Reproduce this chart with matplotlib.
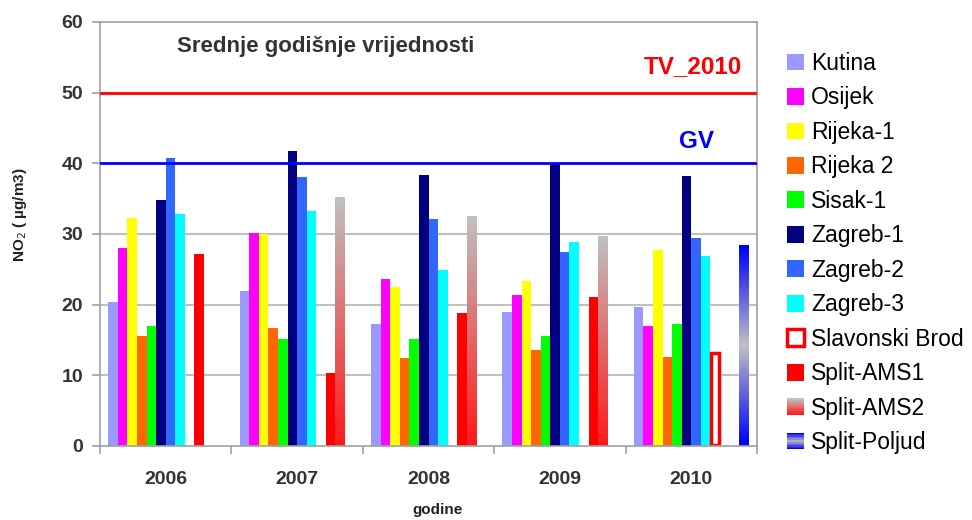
import numpy as np
import matplotlib
matplotlib.use("Agg")
import matplotlib.pyplot as plt
from matplotlib.patches import Rectangle
from matplotlib.legend_handler import HandlerBase
from matplotlib.colors import to_rgb

matplotlib.rcParams['font.family'] = ['Liberation Sans', 'DejaVu Sans']

nan = np.nan
years = ["2006", "2007", "2008", "2009", "2010"]
stations = ["Kutina", "Osijek", "Rijeka-1", "Rijeka 2", "Sisak-1", "Zagreb-1",
            "Zagreb-2", "Zagreb-3", "Slavonski Brod", "Split-AMS1", "Split-AMS2",
            "Split-Poljud"]

kutina = [20.4, 22.0, 17.2, 19.0, 19.7]
osijek = [28.0, 30.2, 23.6, 21.4, 17.0]
rijeka1 = [32.3, 30.0, 22.5, 23.4, 27.7]
rijeka2 = [15.5, 16.7, 12.4, 13.6, 12.6]
sisak1 = [17.0, 15.2, 15.1, 15.6, 17.3]
zagreb1 = [34.8, 41.7, 38.4, 40.1, 38.2]
zagreb2 = [40.7, 38.0, 32.1, 27.5, 29.4]
zagreb3 = [32.8, 33.2, 24.9, 28.9, 26.9]
slav_brod = [nan, nan, nan, nan, 13.3]
split_ams1 = [27.2, 10.3, 18.8, 21.1, nan]
split_ams2 = [nan, 35.1, 32.5, 29.7, nan]
split_poljud = [nan, nan, nan, nan, 28.4]

series = [kutina, osijek, rijeka1, rijeka2, sisak1, zagreb1, zagreb2, zagreb3,
          slav_brod, split_ams1, split_ams2, split_poljud]
colors = ["#9999FF", "#FF00FF", "#FFFF00", "#FF6600", "#00FF00", "#000080",
          "#3366FF", "#00FFFF", "white", "#FF0000", None, None]
gradients = {10: ["#C0C0C0", "#FF1A1A"],
             11: ["#0000FF", "#C0C0C0", "#0000FF"]}

tv_2010 = 50
gv = 40

fig = plt.figure(figsize=(9.72, 5.2), dpi=100)
ax = fig.add_axes([100/972, 1-446/520, 657/972, 424/520])

grid_c = "#C0C0C0"
for yv in [10, 20, 30]:
    ax.axhline(yv, color=grid_c, lw=1.5, zorder=0)

bw = 0.073
start = (1 - 12*bw)/2


def grad_img(cols, n=64):
    cs = np.array([to_rgb(c) for c in cols])
    t = np.linspace(0, 1, n)
    pos = np.linspace(0, 1, len(cs))
    arr = np.stack([np.interp(t, pos, cs[:, k]) for k in range(3)], axis=-1)
    return arr[:, None, :]


for j, vals in enumerate(series):
    for i, v in enumerate(vals):
        if np.isnan(v):
            continue
        x0 = i + start + j*bw
        if j in gradients:
            ax.imshow(grad_img(gradients[j]), extent=(x0, x0+bw, 0, v),
                      aspect='auto', interpolation='bilinear', zorder=2)
        elif j == 8:
            ax.bar(x0 + 0.004, v - 0.25, width=bw - 0.012, bottom=0.15, align='edge',
                   facecolor='white', edgecolor='#FF0000', lw=2.5, zorder=2)
        else:
            ax.bar(x0, v, width=bw, align='edge', color=colors[j], lw=0, zorder=2)

ax.axhline(tv_2010, color="#FF0000", lw=2, zorder=3)
ax.axhline(gv, color="#0000FF", lw=2, zorder=3)

ax.set_xlim(0, 5)
ax.set_ylim(0, 60)
ax.set_yticks(range(0, 61, 10))
ax.set_xticks(range(6))
ax.set_xticklabels([])
ax.set_xticks(np.arange(5) + 0.5, minor=True)
ax.set_xticklabels(years, minor=True)
ax.tick_params(axis='x', which='minor', length=0, pad=18)
ax.tick_params(axis='x', which='major', length=6, width=1.2, color='#A0A0A0')
ax.tick_params(axis='y', length=6, width=1.2, color='#A0A0A0', pad=6)
for lab in ax.get_xticklabels(minor=True) + ax.get_yticklabels():
    lab.set_fontsize(14)
    lab.set_fontweight('bold')
    lab.set_color('#333333')
for s in ax.spines.values():
    s.set_color('#A0A0A0')
    s.set_linewidth(1.2)

ax.text(1.72, 56.5, "Srednje godišnje vrijednosti", fontsize=16, fontweight='bold',
        color='#333333', ha='center', va='center')
ax.text(4.886, 52.8, "TV_2010", fontsize=17.5, fontweight='bold', color='#FF0000',
        ha='right', va='baseline')
ax.text(4.673, 42.2, "GV", fontsize=17.5, fontweight='bold', color='#0000FF',
        ha='right', va='baseline')

fig.text(20/972, 1-215/520, "NO$_2$ ( µg/m3)", rotation=90, fontsize=11,
         fontweight='bold', color='#222222', ha='center', va='center')
fig.text(437/972, 1-510/520, "godine", fontsize=11, fontweight='bold',
         color='#222222', ha='center', va='center')


class GradHandler(HandlerBase):
    def __init__(self, cols):
        super().__init__()
        self.cols = cols

    def create_artists(self, legend, orig_handle, xdescent, ydescent, width,
                       height, fontsize, trans):
        arr = grad_img(self.cols, 12)[:, 0, :]
        n = len(arr)
        out = []
        for k in range(n):
            r = Rectangle((-xdescent, -ydescent + height*(n-1-k)/n), width, height/n,
                          facecolor=arr[k], lw=0, transform=trans)
            out.append(r)
        return out


handles = []
hmap = {}
for j, name in enumerate(stations):
    if j in gradients:
        h = Rectangle((0, 0), 1, 1)
        hmap[h] = GradHandler(gradients[j])
    elif j == 8:
        h = Rectangle((0, 0), 1, 1, facecolor='white', edgecolor='#FF0000', lw=2.5)
    else:
        h = Rectangle((0, 0), 1, 1, facecolor=colors[j], lw=0)
    handles.append(h)

fig.legend(handles, stations, handler_map=hmap, loc='upper left',
           bbox_to_anchor=(787/972, 1-52/520), frameon=False, fontsize=16.5,
           borderaxespad=0, borderpad=0, labelspacing=0.5, handlelength=0.75,
           handleheight=0.75, handletextpad=0.3)

fig.savefig("out.png", dpi=100)
